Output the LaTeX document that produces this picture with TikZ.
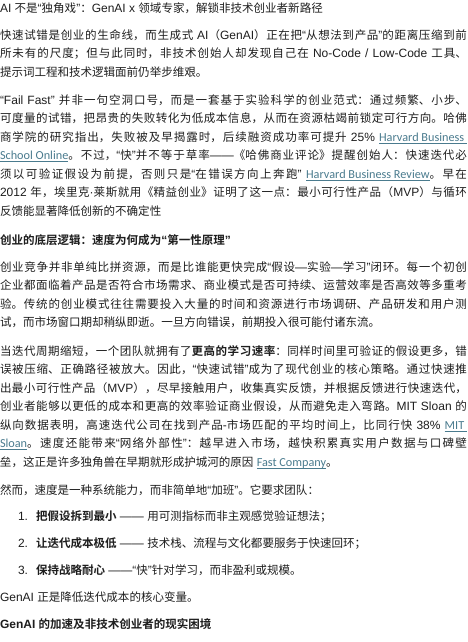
\documentclass[tikz,border=0pt]{standalone}
\usepackage{fontspec}
\setmainfont{Liberation Sans}
\newfontfamily\latinf{Liberation Sans}
\newfontfamily\cjk{Noto Sans CJK SC}[Scale=0.96,BoldFont={Noto Sans CJK SC Bold}]
\newfontfamily\linkfont{Carlito}[Scale=1.02]
\XeTeXlinebreaklocale "zh"
\XeTeXlinebreakskip=0pt plus 2pt minus 0.3pt
\XeTeXinterchartokenstate=1
\newXeTeXintercharclass\CJKcls
\makeatletter
\count@="3000 \loop\XeTeXcharclass\count@=\CJKcls\advance\count@ 1 \ifnum\count@<"3040 \repeat
\count@="4E00 \loop\XeTeXcharclass\count@=\CJKcls\advance\count@ 1 \ifnum\count@<"A000 \repeat
\count@="FF00 \loop\XeTeXcharclass\count@=\CJKcls\advance\count@ 1 \ifnum\count@<"FFF0 \repeat
\makeatother
\XeTeXinterchartoks 0 \CJKcls = {\cjk}
\XeTeXinterchartoks 4095 \CJKcls = {\cjk}
\XeTeXinterchartoks \CJKcls 0 = {\latinf}
\XeTeXinterchartoks \CJKcls 4095 = {\latinf}
\definecolor{txt}{HTML}{1E1E1E}
\definecolor{linkc}{HTML}{4A7B8E}
\newcommand\lnk[1]{{\color{linkc}\setbox0\hbox{\linkfont #1}\rlap{\rule[-1.9pt]{\wd0}{0.55pt}}\box0}}
\begin{document}
\begin{tikzpicture}[x=1pt,y=1pt,
  every node/.style={inner sep=0pt, outer sep=0pt, text=txt},
  para/.style={anchor=base west, text width=467pt, align=justify, font=\fontsize{12pt}{18.5pt}\selectfont},
  oneline/.style={anchor=base west, font=\fontsize{12pt}{18.5pt}\selectfont},
  headline/.style={oneline, font=\fontsize{12pt}{18.5pt}\selectfont\bfseries}]
\fill[white] (0,0) rectangle (468,-642);
\useasboundingbox (0,0) rectangle (468,-642);

\node[oneline] (title) at (0,-12.4) {AI 不是“独角戏”：GenAI x 领域专家，解锁非技术创业者新路径};

\node[para] (p1) at (0,-39.4) {快速试错是创业的生命线，而生成式 AI（GenAI）正在把“从想法到产品”的距离压缩到前\linebreak%
所未有的尺度；但与此同时，非技术创始人却发现自己在 No-Code / Low-Code 工具、\linebreak%
提示词工程和技术逻辑面前仍举步维艰。};

\node[para] (p2) at (0,-104.4) {“Fail Fast” 并非一句空洞口号，而是一套基于实验科学的创业范式：通过频繁、小步、\linebreak%
可度量的试错，把昂贵的失败转化为低成本信息，从而在资源枯竭前锁定可行方向。哈佛\linebreak%
商学院的研究指出，失败被及早揭露时，后续融资成功率可提升 25\% \lnk{Harvard Business\ }\linebreak%
\lnk{School Online}。不过，“快”并不等于草率——《哈佛商业评论》提醒创始人：快速迭代必\linebreak%
须以可验证假设为前提，否则只是“在错误方向上奔跑” \lnk{Harvard Business Review}。早在\linebreak%
2012 年，埃里克·莱斯就用《精益创业》证明了这一点：最小可行性产品（MVP）与循环\linebreak%
反馈能显著降低创新的不确定性};

\node[headline] (h1) at (0,-244.4) {创业的底层逻辑：速度为何成为“第一性原理”};

\node[para] (p3) at (0,-271.4) {创业竞争并非单纯比拼资源，而是比谁能更快完成“假设—实验—学习”闭环。每一个初创\linebreak%
企业都面临着产品是否符合市场需求、商业模式是否可持续、运营效率是否高效等多重考\linebreak%
验。传统的创业模式往往需要投入大量的时间和资源进行市场调研、产品研发和用户测\linebreak%
试，而市场窗口期却稍纵即逝。一旦方向错误，前期投入很可能付诸东流。};

\node[para] (p4) at (0,-355.4) {当迭代周期缩短，一个团队就拥有了\textbf{更高的学习速率}：同样时间里可验证的假设更多，错\linebreak%
误被压缩、正确路径被放大。因此，“快速试错”成为了现代创业的核心策略。通过快速推\linebreak%
出最小可行性产品（MVP），尽早接触用户，收集真实反馈，并根据反馈进行快速迭代，\linebreak%
创业者能够以更低的成本和更高的效率验证商业假设，从而避免走入弯路。MIT Sloan 的\linebreak%
纵向数据表明，高速迭代公司在找到产品-市场匹配的平均时间上，比同行快 38\% \lnk{MIT\ }\linebreak%
\lnk{Sloan}。速度还能带来“网络外部性”：越早进入市场，越快积累真实用户数据与口碑壁\linebreak%
垒，这正是许多独角兽在早期就形成护城河的原因 \lnk{Fast Company}。};

\node[oneline] (p5) at (0,-494.4) {然而，速度是一种系统能力，而非简单地“加班”。它要求团队：};

\node[oneline] (n1) at (18,-520.4) {1.};
\node[oneline] (i1) at (36,-520.4) {\textbf{把假设拆到最小} —— 用可测指标而非主观感觉验证想法；};
\node[oneline] (n2) at (18,-547.4) {2.};
\node[oneline] (i2) at (36,-547.4) {\textbf{让迭代成本极低} —— 技术栈、流程与文化都要服务于快速回环；};
\node[oneline] (n3) at (18,-574.4) {3.};
\node[oneline] (i3) at (36,-574.4) {\textbf{保持战略耐心} ——“快”针对学习，而非盈利或规模。};

\node[oneline] (p6) at (0,-601.4) {GenAI 正是降低迭代成本的核心变量。};

\node[headline] (h2) at (0,-628.4) {GenAI 的加速及非技术创业者的现实困境};
\end{tikzpicture}
\end{document}
